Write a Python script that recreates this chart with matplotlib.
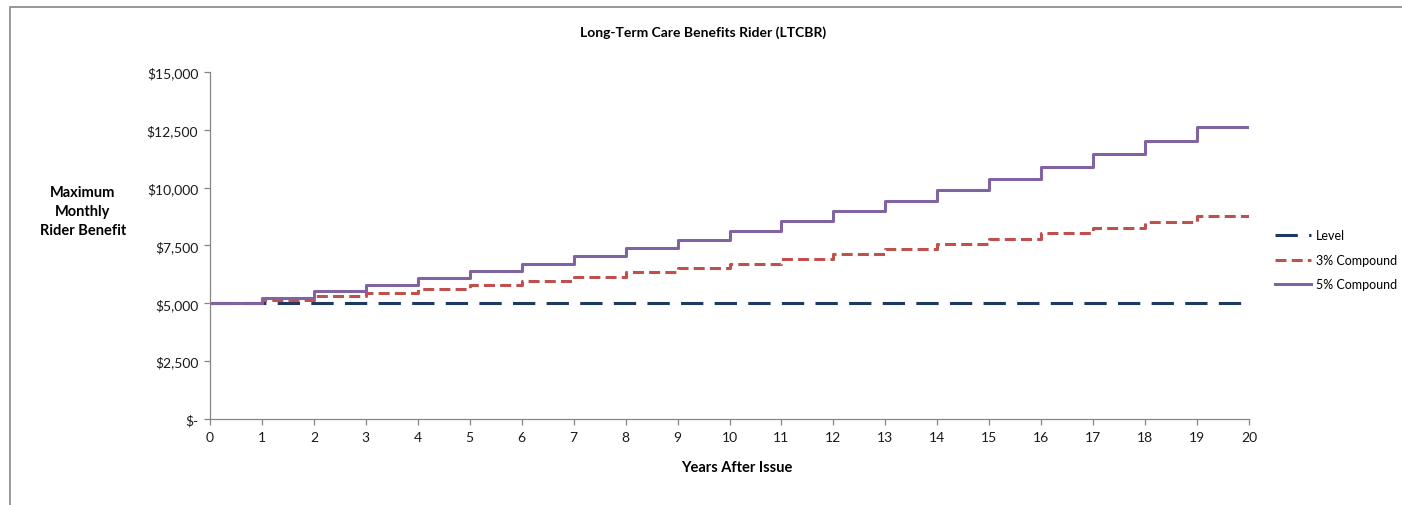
import numpy as np
import matplotlib
matplotlib.use("Agg")
import matplotlib.pyplot as plt
from matplotlib.lines import Line2D
from matplotlib.patches import Rectangle
from matplotlib.ticker import FuncFormatter

plt.rcParams['font.family'] = ['Lato', 'DejaVu Sans']

# данные
years = list(range(0, 21))
level = [5000] * 20
compound_3 = [5000, 5150, 5305, 5464, 5628, 5796, 5970, 6149, 6334, 6524,
              6720, 6921, 7129, 7343, 7563, 7790, 8024, 8264, 8512, 8768]
compound_5 = [5000, 5250, 5513, 5788, 6078, 6381, 6700, 7036, 7387, 7757,
              8144, 8552, 8979, 9428, 9900, 10395, 10914, 11460, 12033, 12635]
series_names = ["Level", "3% Compound", "5% Compound"]
y_ticks = [0, 2500, 5000, 7500, 10000, 12500, 15000]

title = "Long-Term Care Benefits Rider (LTCBR)"
y_label = "Maximum\nMonthly\nRider Benefit"
x_label = "Years After Issue"

W, H = 1402, 506
fig = plt.figure(figsize=(W / 100, H / 100), dpi=100)
ax = fig.add_axes([210 / W, 1 - 420 / H, (1249 - 210) / W, (420 - 73) / H])

navy = "#1f3864"
red = "#c0504d"
purple = "#8064a2"
grey = "#868686"
lw = 2.2
fs = 10

# ступенчатые линии, последний уровень тянется до 20 года
ax.step(years, level + [level[-1]], where="post", color=navy, lw=lw,
        dashes=(7.3, 3.7), label=series_names[0])
ax.step(years, compound_3 + [compound_3[-1]], where="post", color=red, lw=lw,
        dashes=(3.6, 1.7), label=series_names[1])
ax.step(years, compound_5 + [compound_5[-1]], where="post", color=purple, lw=lw,
        label=series_names[2])

ax.set_xlim(0, 20)
ax.set_ylim(0, 15000)
ax.set_xticks(years)
ax.set_yticks(y_ticks)


def money(v, pos):
    if v == 0:
        return "$-"
    return "${:,.0f}".format(v)


ax.yaxis.set_major_formatter(FuncFormatter(money))

for s in ["top", "right"]:
    ax.spines[s].set_visible(False)
for s in ["left", "bottom"]:
    ax.spines[s].set_color(grey)
    ax.spines[s].set_linewidth(0.9)
ax.tick_params(axis="both", colors=grey, labelcolor="#1a1a1a", labelsize=fs,
               length=4.5, width=0.9, direction="out")
ax.tick_params(axis="y", pad=4)
ax.tick_params(axis="x", pad=4)

fig.text(703 / W, 1 - 33 / H, title, ha="center", va="center",
         fontsize=10, fontweight="bold")
fig.text(83 / W, 1 - 212 / H, y_label, ha="center", va="center",
         fontsize=10.5, fontweight="bold", linespacing=1.45)
fig.text(737 / W, 1 - 468 / H, x_label, ha="center", va="center",
         fontsize=10.5, fontweight="bold")

handles = [
    Line2D([], [], color=navy, lw=lw, dashes=(7.3, 3.7)),
    Line2D([], [], color=red, lw=lw, dashes=(3.6, 1.7)),
    Line2D([], [], color=purple, lw=lw),
]
fig.legend(handles, series_names, loc="center left",
           bbox_to_anchor=(1275 / W, 1 - 261 / H), frameon=False,
           fontsize=9, handlelength=2.9, handletextpad=0.35,
           labelspacing=1.0, borderaxespad=0, borderpad=0)

# рамка области диаграммы: правый и нижний края уходят за картинку
fig.add_artist(Rectangle((10 / W, -0.2), 1.2, 1 - 8 / H + 0.2, fill=False,
                         edgecolor=grey, lw=1.2, transform=fig.transFigure))

fig.savefig("out.png", dpi=100)
